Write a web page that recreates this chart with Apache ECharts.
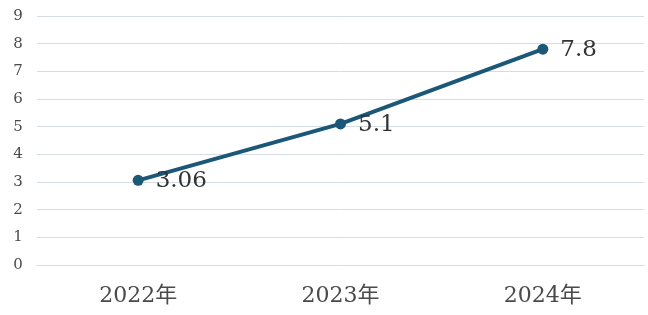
<!DOCTYPE html>
<html><head><meta charset="utf-8">
<script src="https://cdn.jsdelivr.net/npm/echarts@6/dist/echarts.min.js"></script>
<style>html,body{margin:0;padding:0;background:#fff}#c{width:648px;height:315px}</style>
</head><body><div id="c"></div>
<script>
const categories = ['2022年', '2023年', '2024年'];
const values = [3.06, 5.1, 7.8];
const yTicks = { min: 0, max: 9, interval: 1 };

const chart = echarts.init(document.getElementById('c'));
chart.setOption({
  animation: false,
  grid: { left: 37, right: 4, top: 16, bottom: 50 },
  xAxis: {
    type: 'category', data: categories, boundaryGap: true,
    axisLine: { show: true, lineStyle: { color: '#d5dde3', width: 1 } },
    axisTick: { show: false },
    axisLabel: { fontFamily: 'DejaVu Serif, Noto Sans CJK SC', fontSize: 22, color: '#4a4a4a', margin: 20 }
  },
  yAxis: {
    type: 'value', min: yTicks.min, max: yTicks.max, interval: yTicks.interval,
    axisLine: { show: false }, axisTick: { show: false },
    splitLine: { lineStyle: { color: '#d5dde3', width: 1 } },
    axisLabel: { fontFamily: 'DejaVu Serif', fontSize: 15, color: '#4a4a4a', margin: 19, align: 'center' }
  },
  series: [{
    type: 'line', data: values,
    symbol: 'circle', symbolSize: 11,
    lineStyle: { color: '#1b5877', width: 4 },
    itemStyle: { color: '#1b5877' },
    label: { show: true, position: 'right', distance: 12, offset: [0, 1], fontFamily: 'DejaVu Serif', fontSize: 23, color: '#333' }
  }]
});
</script></body></html>
